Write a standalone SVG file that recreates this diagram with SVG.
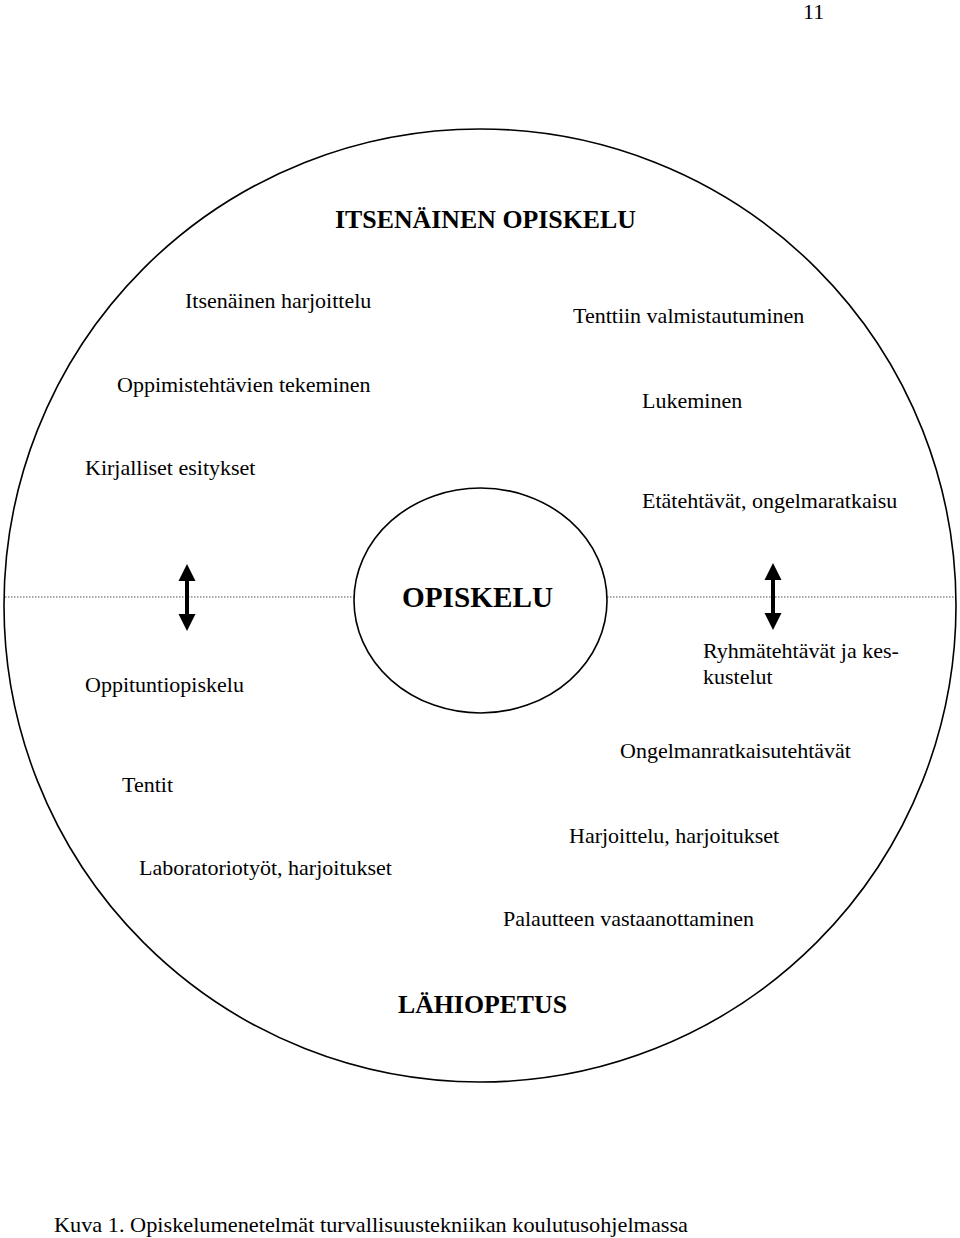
<svg xmlns="http://www.w3.org/2000/svg" width="960" height="1238" viewBox="0 0 960 1238">
<style>
.t{font-family:"Liberation Serif","Times New Roman",serif;font-size:22px;fill:#000}
.b{font-family:"Liberation Serif","Times New Roman",serif;font-weight:bold;fill:#000}
.c{fill:none;stroke:#000;stroke-width:1.6}
.dot{stroke:#555;stroke-width:1.2;stroke-dasharray:1.5 1.5}
.arr{fill:#000}
</style>
<rect width="960" height="1238" fill="#fff"/>
<text class="t" x="803" y="19">11</text>
<g id="outer">
<ellipse class="c" cx="480" cy="605.5" rx="476" ry="476.5"/>
<text class="b" x="335" y="228" font-size="26" textLength="301" lengthAdjust="spacingAndGlyphs">ITSENÄINEN OPISKELU</text>
<text class="b" x="398" y="1013" font-size="26" textLength="169" lengthAdjust="spacingAndGlyphs">LÄHIOPETUS</text>
</g>
<g id="connectors">
<line class="dot" x1="5" y1="597" x2="354" y2="597"/>
<line class="dot" x1="607" y1="597" x2="955" y2="597"/>
<path class="arr" d="M187,564 L195.5,581 L189,581 L189,614 L195.5,614 L187,631 L178.5,614 L185,614 L185,581 L178.5,581 Z"/>
<path class="arr" d="M773,563 L781.5,580 L775,580 L775,613 L781.5,613 L773,630 L764.5,613 L771,613 L771,580 L764.5,580 Z"/>
</g>
<g id="center">
<ellipse class="c" cx="480.5" cy="600.5" rx="126.5" ry="112.5" fill="#fff"/>
<text class="b" x="402" y="607" font-size="30" textLength="151" lengthAdjust="spacingAndGlyphs">OPISKELU</text>
</g>
<g id="itsenainen">
<text class="t" x="185" y="308">Itsenäinen harjoittelu</text>
<text class="t" x="117" y="392">Oppimistehtävien tekeminen</text>
<text class="t" x="85" y="475">Kirjalliset esitykset</text>
<text class="t" x="573" y="323">Tenttiin valmistautuminen</text>
<text class="t" x="642" y="408">Lukeminen</text>
<text class="t" x="642" y="508">Etätehtävät, ongelmaratkaisu</text>
</g>
<g id="lahiopetus">
<text class="t" x="85" y="692">Oppituntiopiskelu</text>
<text class="t" x="703" y="658">Ryhmätehtävät ja kes-</text>
<text class="t" x="703" y="684">kustelut</text>
<text class="t" x="620" y="758">Ongelmanratkaisutehtävät</text>
<text class="t" x="122" y="792">Tentit</text>
<text class="t" x="139" y="875">Laboratoriotyöt, harjoitukset</text>
<text class="t" x="569" y="843">Harjoittelu, harjoitukset</text>
<text class="t" x="503" y="926">Palautteen vastaanottaminen</text>
</g>
<text class="t" x="54" y="1232" textLength="634" lengthAdjust="spacingAndGlyphs">Kuva 1. Opiskelumenetelmät turvallisuustekniikan koulutusohjelmassa</text>
</svg>
